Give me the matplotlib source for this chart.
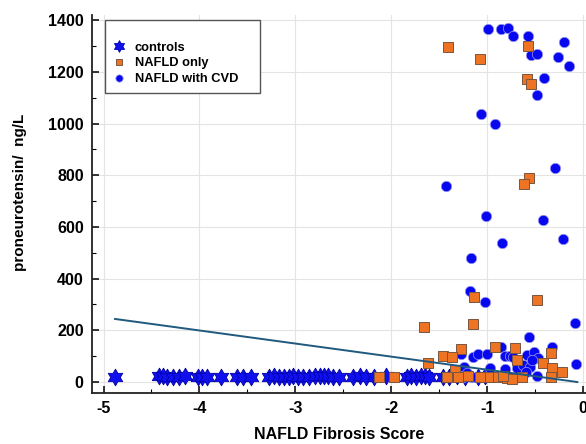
import numpy as np
import matplotlib
matplotlib.use('Agg')
import matplotlib.pyplot as plt
from matplotlib.ticker import MultipleLocator
from matplotlib.path import Path

plt.rcParams['font.family'] = ['Liberation Sans', 'DejaVu Sans']
plt.rcParams['font.weight'] = 'bold'
plt.rcParams['axes.unicode_minus'] = False

# controls (stars)
ctrl_x = [-4.88, -4.42, -4.38, -4.34, -4.28, -4.21, -4.15, -4.02, -3.97, -3.92,
          -3.77, -3.61, -3.55, -3.46, -3.27, -3.22, -3.17, -3.12, -3.07, -3.02,
          -2.97, -2.92, -2.86, -2.80, -2.74, -2.70, -2.66, -2.61, -2.55, -2.40,
          -2.33, -2.26, -2.18, -2.05, -1.84, -1.79, -1.74, -1.69, -1.65, -1.61,
          -1.46, -1.40, -1.31, -1.23, -1.10, -1.02]
ctrl_y = [20, 25, 22, 20, 18, 20, 22, 18, 20, 20,
          18, 20, 18, 18, 20, 22, 20, 18, 20, 22,
          18, 20, 20, 22, 24, 25, 22, 20, 18, 20,
          22, 20, 20, 22, 20, 22, 20, 24, 22, 20,
          20, 18, 22, 20, 20, 22]

# NAFLD only (squares)
only_x = [-1.41, -1.08, -0.57, -0.58, -0.54, -0.56, -0.62, -1.14, -0.48, -1.66,
          -1.15, -1.62, -1.27, -1.46, -1.37, -0.92, -0.71, -0.69, -0.42, -0.33,
          -0.32, -0.22, -1.34, -0.34, -2.13, -1.97, -1.42, -1.30, -1.08, -0.97,
          -0.89, -0.79, -0.74, -0.64, -1.20, -0.84]
only_y = [1296, 1250, 1300, 1172, 1153, 789, 765, 329, 317, 213,
          224, 73, 128, 100, 97, 135, 131, 85, 73, 112,
          54, 38, 46, 20, 20, 20, 20, 18, 18, 20,
          18, 15, 12, 20, 22, 22]

# NAFLD with CVD (circles)
cvd_x = [-0.99, -0.86, -0.78, -0.73, -0.57, -0.20, -0.54, -0.48, -0.26, -0.15,
         -0.41, -0.48, -1.06, -0.92, -0.29, -1.43, -1.01, -0.42, -0.85, -0.21,
         -1.17, -1.18, -1.02, -0.08, -0.56, -0.32, -0.86, -1.27, -1.15, -1.10,
         -1.00, -0.81, -0.76, -0.73, -0.58, -0.51, -0.47, -0.07, -1.24, -0.97,
         -0.81, -0.69, -0.63, -0.55, -0.53, -0.48, -1.25, -1.16, -1.00, -0.90,
         -0.79, -0.64, -1.21, -0.60]
cvd_y = [1365, 1365, 1370, 1340, 1340, 1316, 1265, 1269, 1257, 1224,
         1177, 1110, 1036, 998, 828, 758, 643, 627, 538, 553,
         480, 352, 310, 228, 175, 135, 135, 108, 97, 108,
         108, 100, 100, 97, 104, 116, 93, 70, 58, 54,
         50, 54, 66, 58, 85, 23, 20, 20, 20, 20,
         20, 20, 35, 40]

# regression line end points
line_x = [-4.88, -0.06]
line_y = [244, 0]

# six pointed star (hexagram) marker
ang = np.pi / 2 + np.arange(12) * np.pi / 6
rad = np.where(np.arange(12) % 2 == 0, 1.0, 0.577)
verts = np.column_stack([rad * np.cos(ang), rad * np.sin(ang)])
verts = np.vstack([verts, verts[:1]])
hexagram = Path(verts, closed=True)

fig = plt.figure(figsize=(5.86, 4.44), dpi=100)
ax = fig.add_axes([92/586, 51/444, 494/586, 378/444])

h1, = ax.plot(ctrl_x, ctrl_y, ls='none', marker=hexagram, ms=12, mfc='#1010ee',
              mec='#0000a8', mew=0.6, label='controls', zorder=3)
h3, = ax.plot(cvd_x, cvd_y, ls='none', marker='o', ms=7.5, mfc='#0808f0',
              mec='#9a9af0', mew=0.5, label='NAFLD with CVD', zorder=4)
h2, = ax.plot(only_x, only_y, ls='none', marker='s', ms=7, mfc='#ee7424',
              mec='#7a5540', mew=0.7, label='NAFLD only', zorder=5)
ax.plot(line_x, line_y, color='#1f5a7e', lw=1.4, zorder=6)

ax.set_xlim(-5.12, 0.03)
ax.set_ylim(-42.5, 1420)
ax.xaxis.set_major_locator(MultipleLocator(1))
ax.xaxis.set_minor_locator(MultipleLocator(0.5))
ax.yaxis.set_major_locator(MultipleLocator(200))
ax.yaxis.set_minor_locator(MultipleLocator(100))
ax.grid(True, which='major', color='#e4e4e4', lw=0.8)
ax.set_axisbelow(True)
for s in ['top', 'right']:
    ax.spines[s].set_visible(False)
for s in ['left', 'bottom']:
    ax.spines[s].set_linewidth(1.3)
    ax.spines[s].set_color('#222222')
ax.tick_params(which='major', direction='in', length=5, width=1.1,
               labelsize=11.5, pad=6)
ax.tick_params(which='minor', direction='in', length=3, width=0.8)
for lab in ax.get_xticklabels() + ax.get_yticklabels():
    lab.set_fontweight('bold')

ax.set_xlabel('NAFLD Fibrosis Score', fontsize=11.5, fontweight='bold', labelpad=8)
ax.set_ylabel('proneurotensin/  ng/L', fontsize=11, fontweight='bold')
ax.yaxis.set_label_coords(-0.132, 0.532)

leg = ax.legend([h1, h2, h3], ['controls', 'NAFLD only', 'NAFLD with CVD    '],
                loc='upper left', bbox_to_anchor=(0.026, 0.987), borderaxespad=0,
                title=' ', title_fontsize=8,
                fontsize=9.3, markerscale=0.7, handlelength=1.0,
                handletextpad=0.7, borderpad=0.6, labelspacing=0.3,
                fancybox=False, framealpha=1, edgecolor='#555555')
leg.get_frame().set_linewidth(1.0)
for t in leg.get_texts():
    t.set_fontweight('bold')

fig.savefig('out.png', dpi=100)
